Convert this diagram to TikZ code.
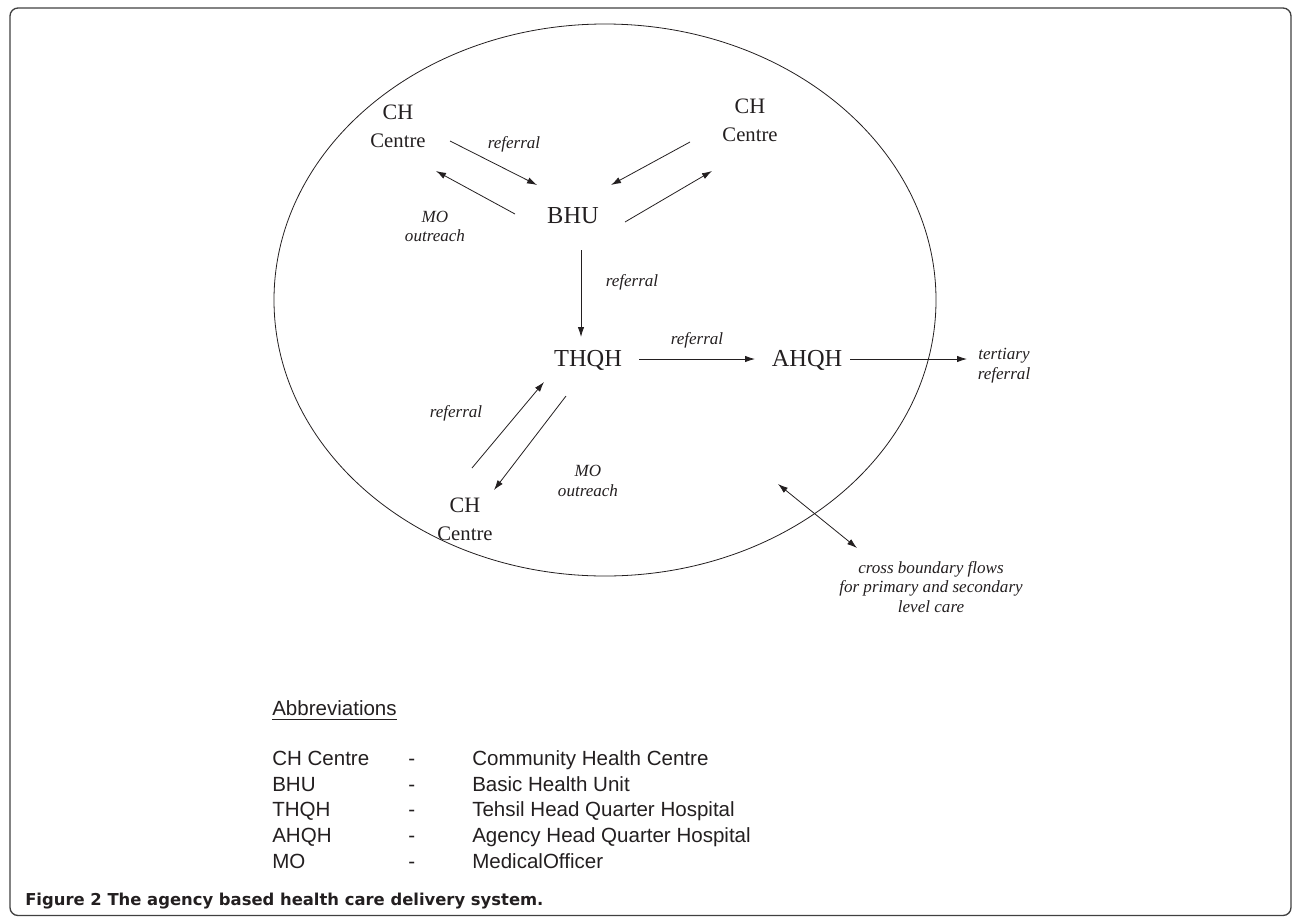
\documentclass[tikz,border=0pt]{standalone}
\usepackage{fontspec}
\setmainfont{Liberation Serif}
\setsansfont{Liberation Sans}
\newfontfamily\capfont{DejaVu Sans}
\usetikzlibrary{arrows.meta,calc}
\definecolor{ink}{RGB}{35,31,32}
\begin{document}
\begin{tikzpicture}[x=0.75pt,y=-0.75pt,
  big/.style={font=\fontsize{18.3}{22}\selectfont, text=ink, inner sep=0pt, anchor=base},
  chc/.style={align=center, font=\fontsize{16.5}{21}\selectfont, text=ink, inner sep=0pt},
  lbl/.style={align=center, font=\fontsize{12.8}{14.6}\selectfont\itshape, text=ink, inner sep=0pt},
  flow/.style={draw=ink, line width=0.6pt, -{Latex[length=7.5pt,width=4.8pt]}},
  dflow/.style={draw=ink, line width=0.6pt, {Latex[length=7.5pt,width=4.8pt]}-{Latex[length=7.5pt,width=4.8pt]}},
  abbr/.style={anchor=base west, font=\sffamily\fontsize{15.4}{18}\selectfont, text=ink, inner sep=0pt}]
\useasboundingbox (0,0) rectangle (1292,918);
% frame
\draw[black!75, line width=1pt, rounded corners=6pt] (10,8) rectangle (1291,915.5);
% boundary ellipse
\node[inner sep=0pt] (centre) at (605,300) {};
\draw[ink, line width=0.6pt] (centre) ellipse [x radius=248.25pt, y radius=207pt];
% facilities
\node[chc] (chtl) at (398,126.5) {CH\\{\fontsize{15.5}{21}\selectfont Centre}};
\node[chc] (chtr) at (750,120) {CH\\{\fontsize{15.5}{21}\selectfont Centre}};
\node[chc] (chbl) at (465,519) {CH\\{\fontsize{15.5}{21}\selectfont Centre}};
\node[big] (bhu) at (573,223) {BHU};
\node[big] (thqh) at (588,366.5) {THQH};
\node[big] (ahqh) at (807,366.5) {AHQH};
% labels
\node[lbl] (lref1) at (514,144) {referral};
\node[lbl] (lmo1) at (435,226.5) {MO\\outreach};
\node[lbl] (lref2) at (632,282) {referral};
\node[lbl] (lref3) at (697,340) {referral};
\node[lbl] (lref4) at (456,413) {referral};
\node[lbl] (lmo2) at (588,481) {MO\\outreach};
\node[lbl] (lter) at (1004,365.5) {tertiary\\referral};
\node[lbl] (lcross) at (931,587) {cross boundary flows\\for primary and secondary\\level care};
% arrow end points
\coordinate (a1s) at (450,141); \coordinate (a1e) at (537,185);
\coordinate (a2s) at (515,214); \coordinate (a2e) at (436,171);
\coordinate (a3s) at (690,142); \coordinate (a3e) at (611,185);
\coordinate (a4s) at (625,222); \coordinate (a4e) at (712,171);
\coordinate (a5s) at (581,250); \coordinate (a5e) at (581,337);
\coordinate (a6s) at (639,359); \coordinate (a6e) at (755,359);
\coordinate (a7s) at (850,359); \coordinate (a7e) at (967,359);
\coordinate (a8s) at (472,468); \coordinate (a8e) at (544,382);
\coordinate (a9s) at (566,396); \coordinate (a9e) at (494,490);
\coordinate (a10s) at (778,484); \coordinate (a10e) at (857,548);
\draw[flow] (a1s) -- (a1e);
\draw[flow] (a2s) -- (a2e);
\draw[flow] (a3s) -- (a3e);
\draw[flow] (a4s) -- (a4e);
\draw[flow] (a5s) -- (a5e);
\draw[flow] (a6s) -- (a6e);
\draw[flow] (a7s) -- (a7e);
\draw[flow] (a8s) -- (a8e);
\draw[flow] (a9s) -- (a9e);
\draw[dflow] (a10s) -- (a10e);
% abbreviations
\node[abbr] (abh) at (272,715.5) {Abbreviations};
\draw[ink, line width=1.1pt] ([yshift=-3pt]abh.base west) -- ([yshift=-3pt]abh.base east);
\node[abbr] (k1) at (272,765.5) {CH Centre};
\node[abbr] (d1) at (408,765.5) {-};
\node[abbr] (v1) at (472,765.5) {Community Health Centre};
\node[abbr] (k2) at (272,791.2) {BHU};
\node[abbr] (d2) at (408,791.2) {-};
\node[abbr] (v2) at (472,791.2) {Basic Health Unit};
\node[abbr] (k3) at (272,816.9) {THQH};
\node[abbr] (d3) at (408,816.9) {-};
\node[abbr] (v3) at (472,816.9) {Tehsil Head Quarter Hospital};
\node[abbr] (k4) at (272,842.6) {AHQH};
\node[abbr] (d4) at (408,842.6) {-};
\node[abbr] (v4) at (472,842.6) {Agency Head Quarter Hospital};
\node[abbr] (k5) at (272,868.3) {MO};
\node[abbr] (d5) at (408,868.3) {-};
\node[abbr] (v5) at (472,868.3) {MedicalOfficer};
% caption
\node[anchor=base west, inner sep=0pt, text=ink, font=\capfont\bfseries\fontsize{12.3}{15}\selectfont] (cap) at (25,905) {Figure 2 The agency based health care delivery system.};
\end{tikzpicture}
\end{document}
